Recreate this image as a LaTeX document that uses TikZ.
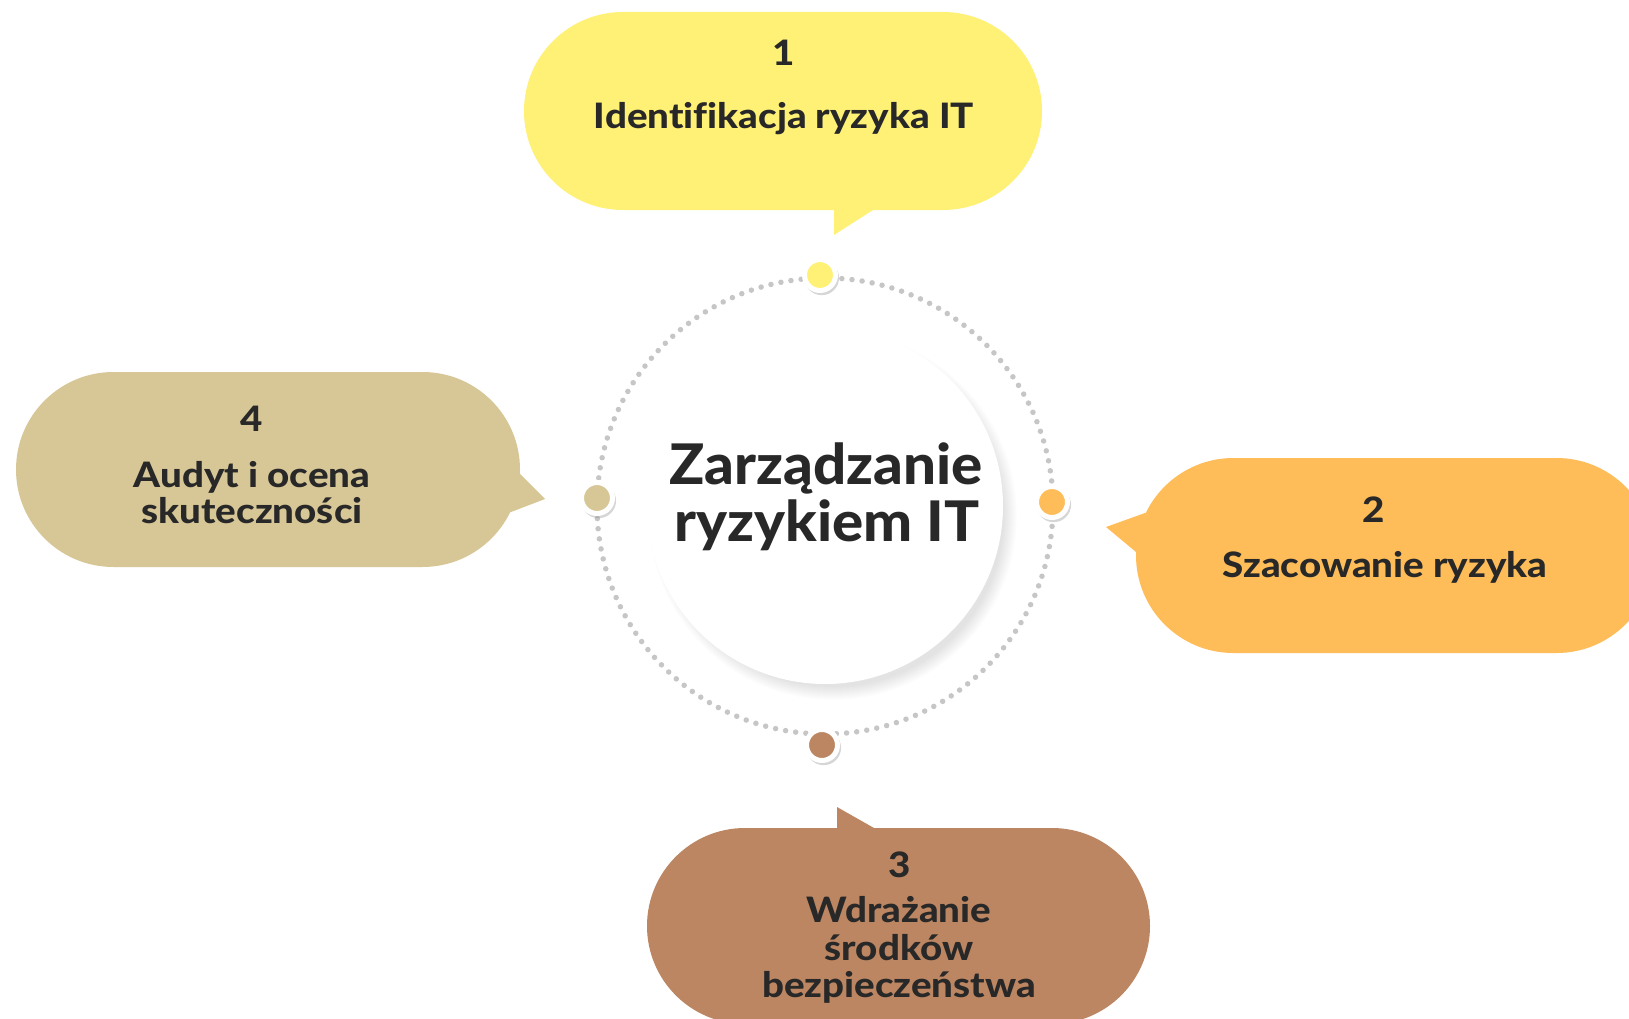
\documentclass[tikz,border=0pt]{standalone}
\usepackage{fontspec}
\setmainfont{Lato}[BoldFont={Lato Heavy}, Ligatures=NoCommon, FakeStretch=1.1]
\newfontfamily\corefont{Lato}[BoldFont={Lato Heavy}, Ligatures=NoCommon, FakeStretch=1.04]
\usetikzlibrary{shapes.misc,shadows,calc}
\definecolor{cyel}{HTML}{FFF176}
\definecolor{corg}{HTML}{FEBD59}
\definecolor{cbrn}{HTML}{BC8662}
\definecolor{cbei}{HTML}{D8C796}
\definecolor{ctxt}{HTML}{282828}
\definecolor{cring}{HTML}{C6C6C6}
\begin{document}
\begin{tikzpicture}[x=1pt,y=-1pt,
  bubble/.style={rounded rectangle, inner sep=0pt, draw=none},
  lbl/.style={font=\fontsize{35}{37}\selectfont\bfseries, text=ctxt, anchor=base, inner sep=0pt},
  corelbl/.style={font=\corefont\fontsize{56}{58}\selectfont\bfseries, text=ctxt, anchor=base, inner sep=0pt},
  marker/.style={circle, minimum size=31pt, inner sep=0pt, draw=white, line width=5pt,
    drop shadow={shadow xshift=1.5pt, shadow yshift=-2.5pt, shadow scale=1.12, opacity=0.35, fill=black!45}}
]
\useasboundingbox (0,0) rectangle (1629,1019);
\fill[white] (0,0) rectangle (1629,1019);
\clip (0,0) rectangle (1629,1019);

% dotted ring
\coordinate (cc) at (825,506);
\draw[cring, line width=5.5pt, line cap=round, dash pattern=on 0pt off 10.2pt] (cc) circle (228);

% soft shadow of the central disc (lower right only)
\foreach \k in {1,...,14}{
  \fill[black, opacity=0.007] ($(cc)+(8,10)$) circle ({170+\k});
}
\node[circle, fill=white, minimum size=356pt, inner sep=0pt] (core) at (cc) {};
\node[corelbl] (coreA) at (826,484) {Zarządzanie};
\node[corelbl] (coreB) at (827,541) {ryzykiem IT};

% bubbles
\node[bubble, fill=cyel, minimum width=518pt, minimum height=198pt] (b1) at (783,111) {};
\fill[cyel] (834,205) -- (834,235) -- (873,210) -- (873,205) -- cycle;
\node[bubble, fill=corg, minimum width=518pt, minimum height=195pt] (b2) at (1395,555.5) {};
\fill[corg] (1145,513) -- (1106,527) -- (1136,552) -- (1160,552) -- (1160,513) -- cycle;
\node[bubble, fill=cbrn, minimum width=503pt, minimum height=196pt] (b3) at (898.5,926) {};
\fill[cbrn] (837,835) -- (837,807) -- (874,828) -- (874,835) -- cycle;
\node[bubble, fill=cbei, minimum width=504pt, minimum height=195pt] (b4) at (268,469.5) {};
\fill[cbei] (519,473) -- (545,499) -- (511,512) -- (495,512) -- (495,473) -- cycle;

% bubble texts
\node[lbl] (n1) at (784,66) {1};
\node[lbl] (t1) at (784,129) {Identifikacja ryzyka IT};
\node[lbl] (n2) at (1374,522) {2};
\node[lbl] (t2) at (1385,577) {Szacowanie ryzyka};
\node[lbl] (n3) at (900,877) {3};
\node[lbl] (t3a) at (899,922) {Wdrażanie};
\node[lbl] (t3b) at (899,960) {środków};
\node[lbl] (t3c) at (899,997) {bezpieczeństwa};
\node[lbl] (n4) at (252,431) {4};
\node[lbl] (t4a) at (252,487) {Audyt i ocena};
\node[lbl] (t4b) at (252,523) {skuteczności};

% markers on the ring
\node[marker, fill=cyel] (m1) at (820,275) {};
\node[marker, fill=corg] (m2) at (1052,502) {};
\node[marker, fill=cbrn] (m3) at (822,745) {};
\node[marker, fill=cbei] (m4) at (597,498) {};
\end{tikzpicture}
\end{document}
